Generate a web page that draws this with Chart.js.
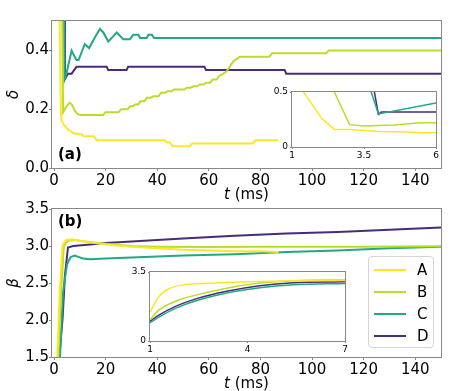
<!DOCTYPE html>
<html><head><meta charset="utf-8">
<script src="https://cdn.jsdelivr.net/npm/chart.js@4"></script>
<style>
html,body{margin:0;padding:0;background:#fff;}
#wrap{position:relative;width:469px;height:391px;overflow:hidden;font-family:'DejaVu Sans',sans-serif;background:#fff;}
canvas{position:absolute;left:0;top:0;}
#legend{position:absolute;left:368px;top:256px;width:66px;height:92px;box-sizing:border-box;border:1px solid #d4d4d4;border-radius:4px;background:rgba(255,255,255,0.85);}
.row{position:absolute;left:0;height:22px;width:100%;}
.row .ln{position:absolute;left:5px;top:10px;width:32px;height:2px;}
.row .lb{position:absolute;left:48px;top:0;font-size:15px;line-height:22px;color:#000;font-family:'DejaVu Sans',sans-serif;}
</style></head><body>
<div id="wrap">
<canvas id="cTop" width="469" height="391"></canvas>
<canvas id="cBot" width="469" height="391"></canvas>
<canvas id="cTopIn" width="469" height="391"></canvas>
<canvas id="cBotIn" width="469" height="391"></canvas>
<div id="legend"></div>
</div>
<script>
// ---------- series names / colours ----------
const seriesNames = ['A', 'B', 'C', 'D'];
const seriesColors = ['#fde725', '#b8de29', '#22a884', '#472c7a'];

// ---------- tick values and labels ----------
const xTicksMain = [0, 20, 40, 60, 80, 100, 120, 140];
const xLabelsMain = ['0', '20', '40', '60', '80', '100', '120', '140'];
const yTicksDelta = [0.0, 0.2, 0.4];
const yLabelsDelta = ['0.0', '0.2', '0.4'];
const yTicksBeta = [1.5, 2.0, 2.5, 3.0, 3.5];
const yLabelsBeta = ['1.5', '2.0', '2.5', '3.0', '3.5'];
const xTicksDeltaInset = [1, 3.5, 6];
const xLabelsDeltaInset = ['1', '3.5', '6'];
const yTicksDeltaInset = [0, 0.5];
const yLabelsDeltaInset = ['0', '0.5'];
const xTicksBetaInset = [1, 4, 7];
const xLabelsBetaInset = ['1', '4', '7'];
const yTicksBetaInset = [0, 3.5];
const yLabelsBetaInset = ['0', '3.5'];

// ---------- (a) delta, [t (ms), value] ----------
const deltaA = [[2.0,0.6],[2.6,0.2],[2.9,0.16],[3.5,0.15],[4.5,0.14],[5.5,0.13],[6.5,0.125],[7.5,0.118],[10.5,0.115],[11.5,0.108],[15.5,0.108],[16.5,0.094],[43,0.094],[44,0.087],[45,0.087],[46,0.074],[52.5,0.074],[53.5,0.083],[77,0.083],[78,0.094],[87,0.094]];
const deltaB = [[3.0,0.7],[3.5,0.19],[4.5,0.205],[6,0.222],[7,0.215],[8,0.195],[9,0.185],[10,0.18],[19,0.18],[20,0.19],[25,0.19],[26,0.2],[28.5,0.2],[29.5,0.21],[30.5,0.21],[31.5,0.216],[32.5,0.216],[33.5,0.227],[35,0.227],[36,0.239],[37.5,0.239],[38.5,0.244],[40.5,0.244],[41.5,0.256],[43,0.256],[44,0.261],[45.5,0.261],[46.5,0.267],[50.5,0.267],[51.5,0.273],[53,0.273],[54,0.278],[55.5,0.278],[56.5,0.284],[58,0.284],[59,0.29],[60.5,0.29],[61.5,0.301],[63,0.301],[64,0.313],[65.5,0.32],[67,0.33],[68.5,0.35],[69.6,0.364],[71,0.372],[72,0.378],[83.5,0.378],[84.5,0.39],[105.5,0.39],[106.5,0.4],[150,0.4]];
const deltaC = [[3.8,0.8],[4.0,0.30],[4.6,0.314],[6.8,0.399],[8.7,0.367],[9.5,0.367],[11.9,0.421],[13.6,0.408],[15.8,0.444],[17.8,0.473],[19.1,0.461],[21,0.43],[24.3,0.461],[26.8,0.438],[29.4,0.438],[30.7,0.453],[32.7,0.453],[33.3,0.442],[35.9,0.442],[36.6,0.453],[37.9,0.453],[38.8,0.442],[150,0.442]];
const deltaD = [[4.0,0.8],[4.2,0.302],[5.4,0.321],[6.8,0.321],[8.7,0.344],[20.4,0.344],[21,0.333],[28.1,0.333],[28.7,0.344],[58.3,0.344],[58.9,0.333],[89.4,0.333],[90,0.321],[150,0.321]];

// ---------- (a) inset, t from 1 to 6 ----------
const deltaInA = [[1.2,0.576],[2.02,0.264],[2.47,0.16],[3.03,0.158],[4.0,0.142],[5.0,0.136],[5.46,0.13],[6,0.13]];
const deltaInB = [[2.3,0.595],[3.0,0.203],[3.49,0.19],[4.53,0.2],[5.46,0.22],[6,0.22]];
const deltaInC = [[3.6,0.62],[4.0,0.30],[6,0.40]];
const deltaInD = [[3.8,0.59],[4.0,0.297],[4.1,0.318],[6,0.318]];

// ---------- (b) beta ----------
const betaA = [[1.0,0.9],[1.2,1.45],[2.2,2.38],[3.3,3.01],[4.5,3.08],[7,3.09],[9.5,3.07],[14,3.05],[20,3.02],[30,2.99],[40,2.97],[50,2.95],[60,2.94],[70,2.93],[80,2.93],[87,2.92]];
const betaB = [[1.4,1.2],[1.6,1.45],[2.7,2.38],[3.8,3.0],[5.4,3.07],[8,3.08],[14,3.05],[20,3.03],[30,3.0],[40,2.99],[60,2.985],[80,2.99],[100,2.99],[120,2.99],[150,2.995]];
const betaC = [[2.0,1.2],[2.3,1.5],[3.5,2.38],[5,2.75],[6.4,2.85],[8,2.87],[11.3,2.83],[14,2.82],[20,2.83],[30,2.845],[50,2.87],[70,2.89],[90,2.92],[110,2.94],[130,2.97],[150,2.99]];
const betaD = [[1.7,1.2],[1.9,1.45],[3.3,2.02],[4.2,2.6],[5.4,2.98],[7.4,3.0],[14,3.02],[20,3.04],[30,3.06],[50,3.10],[70,3.14],[90,3.17],[110,3.19],[130,3.22],[150,3.25]];

// ---------- (b) inset, t from 1 to 7 ----------
const betaInA = [[1,1.46],[1.26,2.23],[1.62,2.68],[2.03,2.85],[2.44,2.9],[3.36,2.97],[4.38,3.02],[5.92,3.07],[7,3.07]];
const betaInB = [[1,1.08],[1.26,1.55],[1.82,2.04],[2.44,2.34],[3.36,2.68],[4.38,2.94],[5.41,3.06],[7,3.1]];
const betaInC = [[1,0.92],[1.26,1.2],[1.82,1.68],[2.44,2.05],[3.36,2.43],[4.38,2.7],[5.41,2.85],[7,2.92]];
const betaInD = [[1,1.0],[1.26,1.3],[1.82,1.78],[2.44,2.15],[3.36,2.52],[4.38,2.8],[5.41,2.95],[7,3.0]];

// ---------- helpers ----------
const FONT = "'DejaVu Sans', sans-serif";
const CW = 469, CH = 391;

function scaleOpts(o) {
  return {
    type: 'linear', min: o.min, max: o.max, bounds: 'data',
    afterBuildTicks: s => { s.ticks = o.ticks.map(v => ({ value: v })); },
    afterFit: s => { if (o.horizontal) s.height = o.size; else s.width = o.size; },
    ticks: {
      autoSkip: false, maxRotation: 0, minRotation: 0, padding: o.pad, color: '#000',
      font: { family: FONT, size: o.fs },
      callback: (v, i) => o.labels[i]
    },
    grid: { drawOnChartArea: false, drawTicks: true, tickLength: o.tl, color: '#888', lineWidth: 1 },
    border: { display: false },
    title: o.title ? {
      display: true, text: o.title, color: '#000',
      font: { family: FONT, size: 15, style: 'italic' },
      padding: { top: 5, bottom: 0 }
    } : { display: false }
  };
}

const framePlugin = {
  id: 'frame',
  beforeDraw(chart, args, opts) {
    if (opts.fill) {
      const a = chart.chartArea, ctx = chart.ctx;
      ctx.save(); ctx.fillStyle = '#fff';
      ctx.fillRect(a.left, a.top, a.right - a.left, a.bottom - a.top);
      ctx.restore();
    }
  },
  afterDraw(chart, args, opts) {
    const a = chart.chartArea, ctx = chart.ctx;
    ctx.save();
    ctx.strokeStyle = '#888'; ctx.lineWidth = 1;
    ctx.strokeRect(Math.round(a.left) - 0.5, Math.round(a.top) - 0.5,
      Math.round(a.right - a.left) + 1, Math.round(a.bottom - a.top) + 1);
    if (opts.xTitle) {
      const cx = (a.left + a.right) / 2, y = a.bottom + opts.xTitleOffset;
      ctx.fillStyle = '#000'; ctx.textBaseline = 'middle'; ctx.textAlign = 'left';
      const fi = 'italic 15px ' + FONT, fn = '15px ' + FONT;
      ctx.font = fi; const w1 = ctx.measureText('t').width;
      ctx.font = fn; const w2 = ctx.measureText(' (ms)').width;
      const x0 = cx - (w1 + w2) / 2;
      ctx.font = fi; ctx.fillText('t', x0, y);
      ctx.font = fn; ctx.fillText(' (ms)', x0 + w1, y);
    }
    if (opts.panel) {
      ctx.fillStyle = '#000'; ctx.textBaseline = 'middle'; ctx.textAlign = 'left';
      ctx.font = 'bold 15px ' + FONT;
      const y = opts.panelAtTop ? a.top + 13 : a.bottom - 13;
      ctx.fillText(opts.panel, a.left + 6, y);
    }
    ctx.restore();
  }
};

function makeChart(id, series, c) {
  const datasets = series.map((s, i) => ({
    label: seriesNames[i],
    data: s.map(p => ({ x: p[0], y: p[1] })),
    borderColor: seriesColors[i],
    backgroundColor: seriesColors[i],
    borderWidth: c.lw, pointRadius: 0, fill: false,
    tension: 0, cubicInterpolationMode: c.smooth ? 'monotone' : 'default'
  }));
  return new Chart(document.getElementById(id), {
    type: 'line',
    data: { datasets },
    plugins: [framePlugin],
    options: {
      responsive: false, animation: false, devicePixelRatio: 1,
      layout: { padding: { left: c.area.l - c.yw, top: c.area.t, right: CW - c.area.r, bottom: CH - c.area.b - c.xh } },
      scales: {
        x: scaleOpts({ min: c.xr[0], max: c.xr[1], ticks: c.xt, labels: c.xl, horizontal: true, size: c.xh, pad: c.xpad, fs: c.fs, tl: c.tl }),
        y: scaleOpts({ min: c.yr[0], max: c.yr[1], ticks: c.yt, labels: c.yl, horizontal: false, size: c.yw, pad: c.ypad, fs: c.fs, tl: c.tl, title: c.yTitle })
      },
      plugins: {
        legend: { display: false }, tooltip: { enabled: false },
        frame: { fill: c.fill, xTitle: c.xTitle, xTitleOffset: 27, panel: c.panel, panelAtTop: c.panelAtTop }
      }
    }
  });
}

// ---------- charts ----------
makeChart('cTop', [deltaA, deltaB, deltaC, deltaD], {
  area: { l: 52, t: 21, r: 441, b: 168 }, yw: 52, xh: 35,
  xr: [-0.8, 150], yr: [0, 0.5], xt: xTicksMain, xl: xLabelsMain, yt: yTicksDelta, yl: yLabelsDelta,
  fs: 15, tl: 3, xpad: 1, ypad: 0, lw: 2, yTitle: 'δ', xTitle: true, panel: '(a)', panelAtTop: false
});
makeChart('cBot', [betaA, betaB, betaC, betaD], {
  area: { l: 52, t: 209, r: 441, b: 357 }, yw: 52, xh: 33,
  xr: [-0.8, 150], yr: [1.5, 3.5], xt: xTicksMain, xl: xLabelsMain, yt: yTicksBeta, yl: yLabelsBeta,
  fs: 15, tl: 3, xpad: 1, ypad: 0, lw: 2, yTitle: 'β', xTitle: true, panel: '(b)', panelAtTop: true
});
makeChart('cTopIn', [deltaInA, deltaInB, deltaInC, deltaInD], {
  area: { l: 292, t: 92, r: 436, b: 147 }, yw: 30, xh: 16,
  xr: [1, 6], yr: [0, 0.5], xt: xTicksDeltaInset, xl: xLabelsDeltaInset, yt: yTicksDeltaInset, yl: yLabelsDeltaInset,
  fs: 9, tl: 2, xpad: 1, ypad: 2, lw: 1.5, fill: true
});
makeChart('cBotIn', [betaInA, betaInB, betaInC, betaInD], {
  area: { l: 150, t: 272, r: 345, b: 341 }, yw: 30, xh: 16,
  xr: [1, 7], yr: [0, 3.5], xt: xTicksBetaInset, xl: xLabelsBetaInset, yt: yTicksBetaInset, yl: yLabelsBetaInset,
  fs: 9, tl: 2, xpad: 1, ypad: 2, lw: 1.5, fill: true, smooth: true
});

// ---------- legend ----------
const leg = document.getElementById('legend');
seriesNames.forEach((n, i) => {
  const r = document.createElement('div');
  r.className = 'row'; r.style.top = (2 + i * 22) + 'px';
  const ln = document.createElement('div'); ln.className = 'ln'; ln.style.background = seriesColors[i];
  const lb = document.createElement('div'); lb.className = 'lb'; lb.textContent = n;
  r.appendChild(ln); r.appendChild(lb); leg.appendChild(r);
});
</script>
</body></html>
